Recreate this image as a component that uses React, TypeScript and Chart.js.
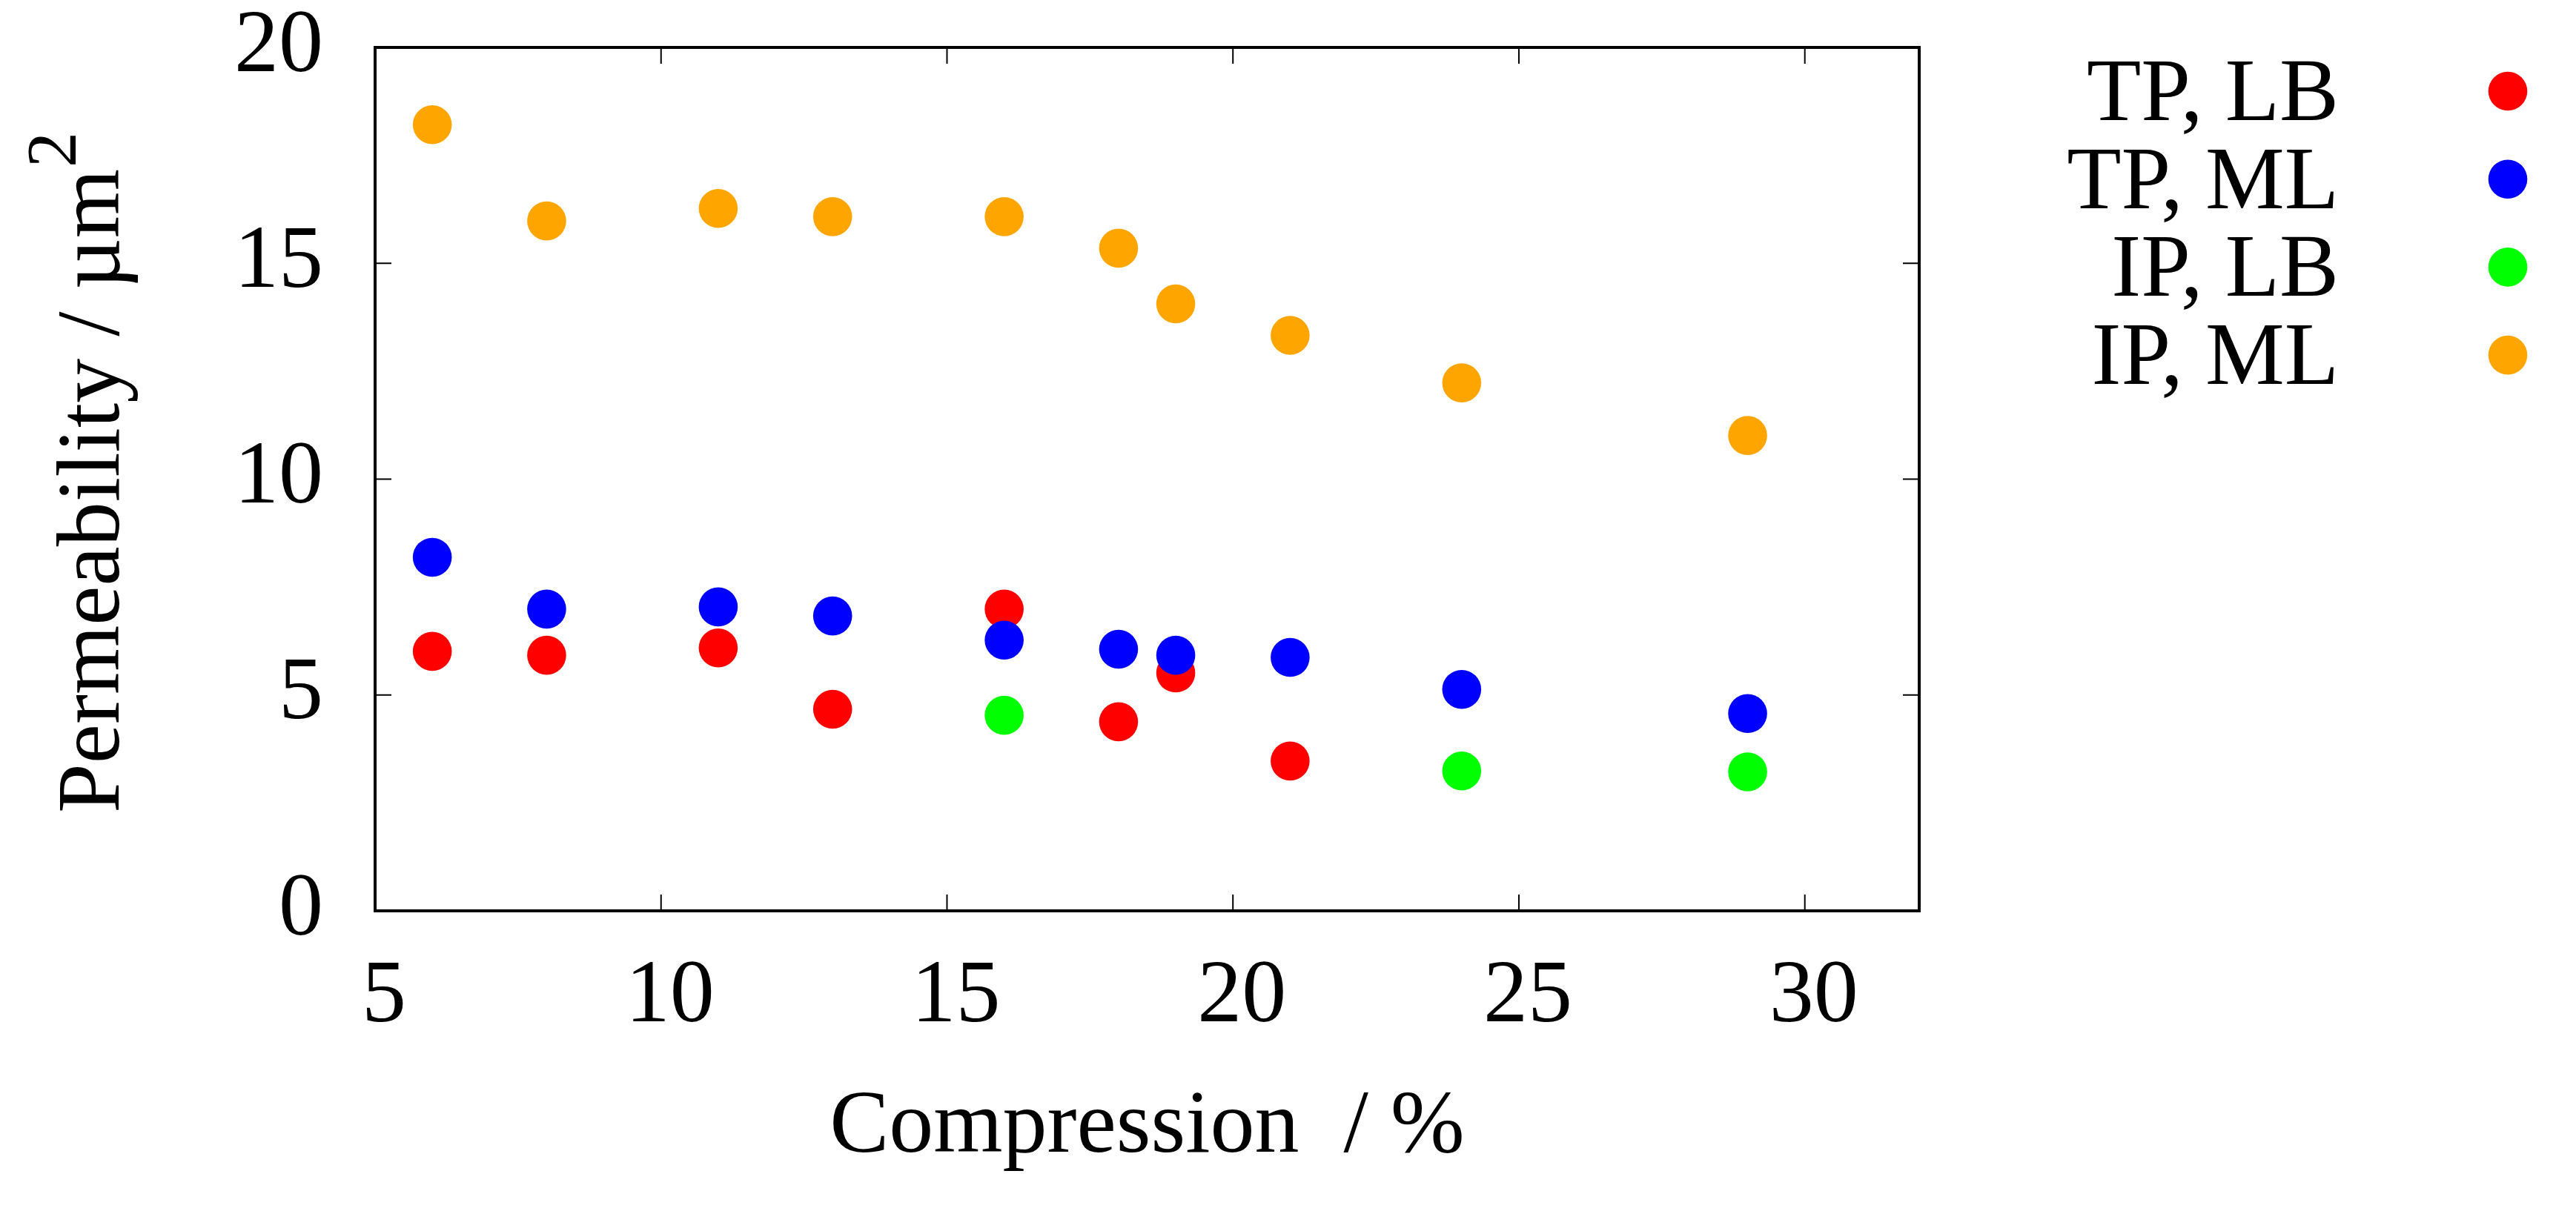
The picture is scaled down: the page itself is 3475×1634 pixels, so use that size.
import React, { useEffect, useRef } from "react";
import { Chart, registerables } from "chart.js";

Chart.register(...registerables);

// ---- data ----
const seriesNames = ["TP, LB", "TP, ML", "IP, LB", "IP, ML"];
const seriesColors = ["#ff0000", "#0000ff", "#00ff00", "#ffa500"];

const xTP_LB = [6, 8, 11, 13, 16, 18, 19, 21];
const yTP_LB = [6.01, 5.92, 6.09, 4.67, 6.99, 4.38, 5.51, 3.47];

const xTP_ML = [6, 8, 11, 13, 16, 18, 19, 21, 24, 29];
const yTP_ML = [8.19, 6.99, 7.04, 6.83, 6.27, 6.06, 5.92, 5.87, 5.13, 4.57];

const xIP_LB = [16, 24, 29];
const yIP_LB = [4.53, 3.24, 3.22];

const xIP_ML = [6, 8, 11, 13, 16, 18, 19, 21, 24, 29];
const yIP_ML = [18.21, 15.98, 16.27, 16.08, 16.08, 15.35, 14.06, 13.33, 12.23, 11.01];

const xTicks = [5, 10, 15, 20, 25, 30];
const yTicks = [0, 5, 10, 15, 20];
const xMin = 5;
const xMax = 32;
const yMin = 0;
const yMax = 20;

const xTitle = "Compression  / %";
const yTitleMain = "Permeability / µm";
const yTitleSup = "2";

const FONT = '"Liberation Serif", "Times New Roman", serif';
const W = 3475;
const H = 1634;

function pts(xs: number[], ys: number[]) {
  return xs.map((x, i) => ({ x, y: ys[i] }));
}

const framePlugin = {
  id: "gnuFrame",
  beforeDraw(chart: any) {
    const ctx = chart.ctx;
    ctx.save();
    ctx.fillStyle = "#ffffff";
    ctx.fillRect(0, 0, chart.width, chart.height);
    ctx.restore();
  },
  beforeDatasetsDraw(chart: any) {
    const ctx = chart.ctx;
    const { left, right, top, bottom } = chart.chartArea;
    const xs = chart.scales.x;
    const ys = chart.scales.y;
    const tl = 22;
    ctx.save();
    ctx.strokeStyle = "#000000";
    ctx.lineWidth = 2;
    ctx.beginPath();
    xTicks.forEach((v) => {
      const px = xs.getPixelForValue(v);
      ctx.moveTo(px, bottom);
      ctx.lineTo(px, bottom - tl);
      ctx.moveTo(px, top);
      ctx.lineTo(px, top + tl);
    });
    yTicks.forEach((v) => {
      const py = ys.getPixelForValue(v);
      ctx.moveTo(left, py);
      ctx.lineTo(left + tl, py);
      ctx.moveTo(right, py);
      ctx.lineTo(right - tl, py);
    });
    ctx.stroke();
    ctx.lineWidth = 4;
    ctx.strokeRect(left, top, right - left, bottom - top);
    ctx.restore();
  },
  afterDraw(chart: any) {
    const ctx = chart.ctx;
    ctx.save();
    ctx.fillStyle = "#000000";
    // y-axis title with superscript
    ctx.translate(160, 1097);
    ctx.rotate(-Math.PI / 2);
    ctx.font = `120px ${FONT}`;
    ctx.textAlign = "left";
    ctx.textBaseline = "alphabetic";
    ctx.fillText(yTitleMain, 0, 0);
    const w = ctx.measureText(yTitleMain).width;
    ctx.font = `96px ${FONT}`;
    ctx.fillText(yTitleSup, w + 2, -58);
    ctx.restore();

    // legend
    ctx.save();
    ctx.font = `120px ${FONT}`;
    ctx.textAlign = "right";
    ctx.textBaseline = "alphabetic";
    const legendTop = 123;
    const legendStep = 118.7;
    seriesNames.forEach((name, i) => {
      const cy = legendTop + i * legendStep;
      ctx.fillStyle = "#000000";
      ctx.fillText(name, 3155, cy + 39);
      ctx.fillStyle = seriesColors[i];
      ctx.beginPath();
      ctx.arc(3383, cy, 26.3, 0, Math.PI * 2);
      ctx.fill();
    });
    ctx.restore();
  },
};

export default function App() {
  const ref = useRef<HTMLCanvasElement | null>(null);
  useEffect(() => {
    const canvas = ref.current;
    if (!canvas) return;
    const allX = [xTP_LB, xTP_ML, xIP_LB, xIP_ML];
    const allY = [yTP_LB, yTP_ML, yIP_LB, yIP_ML];
    const datasets = seriesNames.map((name, i) => ({
      label: name,
      data: pts(allX[i], allY[i]),
      backgroundColor: seriesColors[i],
      borderColor: seriesColors[i],
      borderWidth: 0,
      pointRadius: 26.3,
      pointHoverRadius: 26.3,
      pointBorderWidth: 0,
      order: seriesNames.length - 1 - i,
    }));
    const chart = new Chart(canvas, {
      type: "scatter",
      data: { datasets },
      plugins: [framePlugin],
      options: {
        animation: false,
        responsive: false,
        devicePixelRatio: 1,
        events: [],
        layout: { padding: { left: 0, right: W - 2589, top: 64, bottom: 0 } },
        plugins: {
          legend: { display: false },
          tooltip: { enabled: false },
          title: { display: false },
        },
        scales: {
          x: {
            type: "linear",
            min: xMin,
            max: xMax,
            grid: { display: false, drawTicks: false },
            border: { display: false },
            afterBuildTicks: (s: any) => {
              s.ticks = xTicks.map((v) => ({ value: v }));
            },
            afterFit: (s: any) => {
              s.height = H - 1229;
              s.paddingLeft = 0;
              s.paddingRight = 0;
              s.paddingTop = 0;
              s.paddingBottom = 0;
            },
            ticks: {
              color: "#000000",
              font: { family: FONT, size: 120 },
              padding: 45,
              labelOffset: 12,
              maxRotation: 0,
              autoSkip: false,
            },
            title: {
              display: true,
              text: xTitle,
              color: "#000000",
              font: { family: FONT, size: 120 },
              padding: { top: 0, bottom: 40 },
            },
          },
          y: {
            type: "linear",
            min: yMin,
            max: yMax,
            grid: { display: false, drawTicks: false },
            border: { display: false },
            afterBuildTicks: (s: any) => {
              s.ticks = yTicks.map((v) => ({ value: v }));
            },
            afterFit: (s: any) => {
              s.width = 506;
              s.paddingLeft = 0;
              s.paddingRight = 0;
              s.paddingTop = 0;
              s.paddingBottom = 0;
            },
            ticks: {
              color: "#000000",
              font: { family: FONT, size: 120 },
              padding: 70,
              autoSkip: false,
            },
          },
        },
      },
    } as any);
    return () => chart.destroy();
  }, []);
  return (
    <div style={{ position: "fixed", left: 0, top: 0, width: W, height: H, background: "#fff" }}>
      <canvas ref={ref} width={W} height={H} style={{ display: "block", width: W, height: H }} />
    </div>
  );
}
